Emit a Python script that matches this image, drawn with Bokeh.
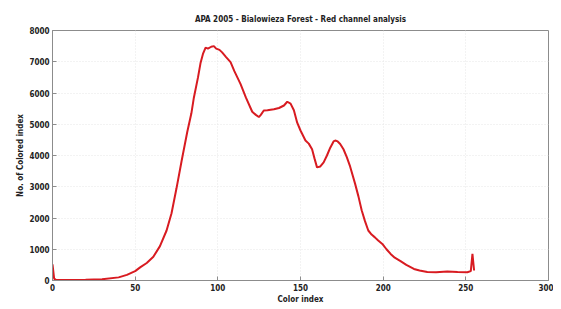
from bokeh.plotting import figure
from bokeh.models import LinearAxis, Range1d, FixedTicker
from bokeh.embed import file_html
from bokeh.resources import INLINE

# Histogram of red channel (color index vs number of pixels)
color_index = [0, 1, 2, 10, 20, 30, 40, 45, 50, 53, 57, 61, 65, 69, 72, 75, 78, 81.5, 84, 85.5, 88, 89.5,
               91, 92.6, 94, 96, 97.6, 99, 101, 102.6, 105, 107.7, 110, 113.7, 117, 120.8, 123, 124.8,
               126, 127.8, 130, 133.9, 137, 140, 142, 144, 146, 148, 150, 153, 155, 157, 158.5, 160,
               162, 164, 166, 168, 170, 171, 172.5, 174, 176, 178, 180, 183, 185, 187, 189, 191, 193,
               195, 197, 199.5, 202, 204.5, 207, 210.5, 214, 218.6, 222, 226.7, 232, 238.8, 245, 250.9,
               253, 254, 255]
pixel_count = [520, 60, 20, 15, 25, 40, 100, 180, 300, 420, 560, 760, 1100, 1600, 2150, 2950, 3800, 4750,
               5350, 5850, 6500, 6950, 7250, 7450, 7420, 7480, 7500, 7420, 7380, 7300, 7150, 6990, 6700,
               6290, 5850, 5400, 5300, 5230, 5300, 5440, 5450, 5480, 5520, 5600, 5720, 5660, 5450, 5050,
               4800, 4480, 4380, 4200, 3900, 3620, 3650, 3780, 4000, 4250, 4450, 4480, 4450, 4370, 4200,
               3950, 3650, 3100, 2700, 2250, 1900, 1600, 1470, 1380, 1280, 1170, 1000, 850, 730, 620, 500,
               370, 320, 270, 265, 290, 270, 265, 300, 850, 320]

x_ticks = [0, 50, 100, 150, 200, 250, 300]
y_ticks = [0, 1000, 2000, 3000, 4000, 5000, 6000, 7000, 8000]

title_text = "APA 2005 - Bialowieza Forest - Red channel analysis"
x_label = "Color index"
y_label = "No. of Colored index"

FONT = "DejaVu Sans Condensed"
AX = "#8c8c8c"
TXT = "#222222"

p = figure(frame_width=496, frame_height=250, output_backend="svg", toolbar_location=None,
           x_range=Range1d(0, 300), y_range=Range1d(0, 8000),
           min_border_left=52, min_border_right=5, min_border_top=30, min_border_bottom=5,
           x_axis_location=None, y_axis_location=None)

p.title.text = title_text
p.title.align = "center"
p.title.text_font = FONT
p.title.text_font_size = "8px"
p.title.text_font_style = "bold"
p.title.text_color = TXT
p.title.offset = 0
p.title.standoff = 13

def style(ax):
    ax.axis_line_color = AX
    ax.major_tick_line_color = AX
    ax.major_tick_in = 4
    ax.major_tick_out = 0
    ax.minor_tick_line_color = None
    ax.major_label_text_font = FONT
    ax.major_label_text_font_size = "8px"
    ax.major_label_text_font_style = "bold"
    ax.major_label_text_color = TXT
    ax.axis_label_text_font = FONT
    ax.axis_label_text_font_size = "8px"
    ax.axis_label_text_font_style = "bold"
    ax.axis_label_text_color = TXT

xb = LinearAxis(ticker=FixedTicker(ticks=x_ticks), axis_label=x_label)
style(xb)
xb.major_label_standoff = 3
xb.axis_label_standoff = 1
p.add_layout(xb, "below")

yl = LinearAxis(ticker=FixedTicker(ticks=y_ticks), axis_label=y_label)
style(yl)
yl.major_label_standoff = 3
yl.axis_label_standoff = 1
p.add_layout(yl, "left")

p.xgrid.ticker = FixedTicker(ticks=x_ticks)
p.ygrid.ticker = FixedTicker(ticks=y_ticks)
p.xgrid.grid_line_color = "#e6e6e6"
p.ygrid.grid_line_color = "#e6e6e6"
p.xgrid.grid_line_dash = "1 2"
p.ygrid.grid_line_dash = "1 2"
p.outline_line_color = AX

p.line(color_index, pixel_count, line_color="#d81b21", line_width=2)

open("out.html", "w").write(file_html(p, INLINE))
